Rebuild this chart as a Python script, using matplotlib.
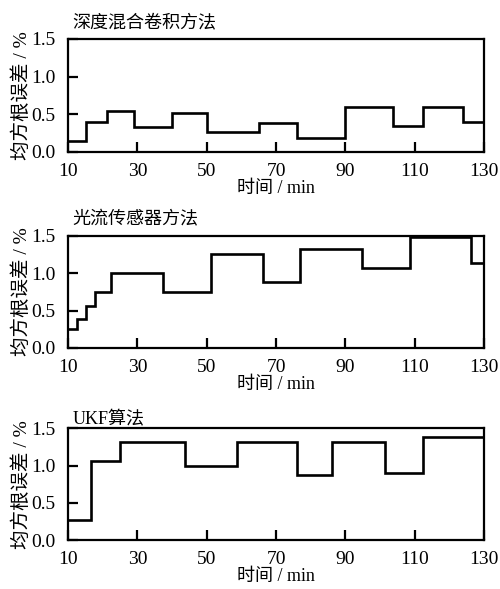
import matplotlib
matplotlib.use('Agg')
import matplotlib.pyplot as plt
import numpy as np

plt.rcParams['font.family'] = ['Liberation Serif', 'Noto Sans CJK SC']

# step edges (min) and RMSE values (%) for each method
edges_depth = [10, 15.1, 21.3, 28.9, 40, 50.1, 65, 76.2, 89.8, 103.8, 112.4, 123.8, 130]
rmse_depth = [0.14, 0.40, 0.54, 0.33, 0.52, 0.27, 0.39, 0.18, 0.59, 0.34, 0.59, 0.40]

edges_flow = [10, 12.6, 15.1, 17.7, 22.5, 37.5, 51.3, 66.3, 77, 94.8, 108.6, 126.2, 130]
rmse_flow = [0.25, 0.39, 0.565, 0.75, 1.0, 0.75, 1.26, 0.88, 1.32, 1.07, 1.49, 1.13]

edges_ukf = [10, 16.7, 25, 43.8, 58.7, 76, 86.2, 101.3, 112.4, 130]
rmse_ukf = [0.27, 1.06, 1.32, 1.0, 1.32, 0.87, 1.32, 0.90, 1.38]

titles = ['深度混合卷积方法', '光流传感器方法', 'UKF算法']
x_ticks = [10, 30, 50, 70, 90, 110, 130]
y_ticks = [0.0, 0.5, 1.0, 1.5]

panels = [(edges_depth, rmse_depth), (edges_flow, rmse_flow), (edges_ukf, rmse_ukf)]
boxes = [[0.136, 0.742, 0.832, 0.192],
         [0.136, 0.4095, 0.832, 0.190],
         [0.136, 0.083, 0.832, 0.190]]
title_pads = [8, 8, 3]

fig = plt.figure(figsize=(5.0, 5.89), dpi=100)

for (edges, vals), title, box, tpad in zip(panels, titles, boxes, title_pads):
    ax = fig.add_axes(box)
    ax.stairs(vals, edges, color='black', linewidth=1.9, baseline=None)
    ax.set_xlim(10, 130)
    ax.set_ylim(0, 1.5)
    ax.set_xticks(x_ticks)
    ax.set_yticks(y_ticks)
    ax.set_yticklabels(['%.1f' % v for v in y_ticks])
    ax.tick_params(direction='in', length=7, width=1.6, labelsize=14)
    ax.tick_params(axis='x', pad=8)
    ax.tick_params(axis='y', pad=9)
    for s in ax.spines.values():
        s.set_linewidth(1.6)
    ax.set_xlabel('时间 / min', fontsize=13, labelpad=0)
    ax.set_ylabel('均方根误差 / %', fontsize=14, labelpad=0)
    ax.set_title(title, loc='left', fontsize=13, pad=tpad, x=0.01)

fig.savefig('out.png', dpi=100)
